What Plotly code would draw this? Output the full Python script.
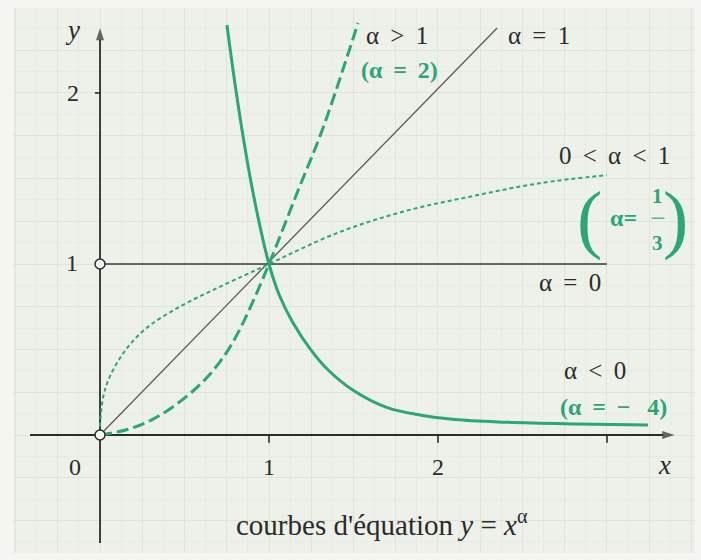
import plotly.graph_objects as go

# Curves y = x^alpha, values read point by point
x_neg4 = [0.751, 0.80, 0.85, 0.90, 0.95, 1.0, 1.06, 1.14, 1.25, 1.35, 1.5, 1.7, 1.9, 2.1, 2.4, 2.8, 3.243]
y_neg4 = [2.398, 2.045, 1.725, 1.445, 1.205, 1.0, 0.82, 0.66, 0.495, 0.38, 0.26, 0.16, 0.116, 0.09, 0.075, 0.065, 0.058]

x_two = [0, 0.168, 0.306, 0.424, 0.542, 0.641, 0.740, 0.818, 0.90, 1.0, 1.172, 1.314, 1.527]
y_two = [0, 0.034, 0.089, 0.160, 0.250, 0.345, 0.470, 0.600, 0.770, 1.0, 1.43, 1.78, 2.409]

x_third = [0, 0.03, 0.13, 0.266, 0.462, 0.663, 0.858, 1.0, 1.4, 1.8, 2.2, 2.6, 3.0]
y_third = [0.05, 0.268, 0.468, 0.618, 0.745, 0.845, 0.935, 1.0, 1.18, 1.308, 1.396, 1.472, 1.52]

x_one = [0, 2.35]
y_one = [0, 2.38]

x_zero = [0, 3.0]
y_zero = [1, 1]

# open points on the y axis
x_open = [0, 0]
y_open = [0, 1]

# extent of the drawn axes
x_axis_span = [-0.414, 3.40]
y_axis_span = [-0.632, 2.38]

x_ticks = [1, 2, 3]
x_tick_labels = ["1", "2", ""]
y_ticks = [2]

GREEN = "#2aa677"
INK = "#2b2b2b"
FONT = "Liberation Serif, Times New Roman, DejaVu Serif, serif"
SP = "\u2009"  # thin space around operators

fig = go.Figure()

# axes: plain lines ending in an arrow head
fig.add_trace(go.Scatter(x=x_axis_span, y=[0, 0], mode="lines+markers",
                         line=dict(color=INK, width=1.8),
                         marker=dict(symbol="arrow", size=[0, 13], angleref="previous",
                                     color=INK, line=dict(width=0))))
fig.add_trace(go.Scatter(x=[0, 0], y=y_axis_span, mode="lines+markers",
                         line=dict(color=INK, width=1.8),
                         marker=dict(symbol="arrow", size=[0, 13], angleref="previous",
                                     color=INK, line=dict(width=0))))

fig.add_trace(go.Scatter(x=x_one, y=y_one, mode="lines",
                         line=dict(color="#5a5a5a", width=1.3)))
fig.add_trace(go.Scatter(x=x_zero, y=y_zero, mode="lines",
                         line=dict(color="#3a3a3a", width=1.6)))
fig.add_trace(go.Scatter(x=x_third, y=y_third, mode="lines", line_shape="spline",
                         line=dict(color=GREEN, width=2, dash="4px,3px")))
fig.add_trace(go.Scatter(x=x_two, y=y_two, mode="lines", line_shape="spline",
                         line=dict(color=GREEN, width=3, dash="12px,5px")))
fig.add_trace(go.Scatter(x=x_neg4, y=y_neg4, mode="lines", line_shape="spline",
                         line=dict(color=GREEN, width=3)))

# small tick marks on the axes
for t in x_ticks:
    fig.add_shape(type="line", x0=t, x1=t, y0=0, y1=-0.045, xref="x", yref="y",
                  line=dict(color=INK, width=1.6))
for t in y_ticks:
    fig.add_shape(type="line", x0=-0.03, x1=0, y0=t, y1=t, xref="x", yref="y",
                  line=dict(color=INK, width=1.6))

fig.add_trace(go.Scatter(x=x_open, y=y_open, mode="markers",
                         marker=dict(symbol="circle", size=10, color="#f4f6f2",
                                     line=dict(color=INK, width=1.5))))


def label(x, y, text, size=25, color=INK, bold=False, xanchor="center"):
    if bold:
        text = "<b>" + text + "</b>"
    fig.add_annotation(x=x, y=y, text=text, showarrow=False, xref="x", yref="y",
                       xanchor=xanchor, yanchor="middle",
                       font=dict(family=FONT, size=size, color=color))


def op(a, sym, b):
    return a + " " + SP + sym + SP + " " + b


# axis labels
label(-0.148, -0.187, "0", size=24)
for t, s in zip(x_ticks, x_tick_labels):
    if s:
        label(t, -0.187, s, size=24)
label(3.343, -0.175, "<i>x</i>", size=27)
label(-0.16, 2.37, "<i>y</i>", size=27)
label(-0.16, 2.0, "2", size=24)
label(-0.165, 1.006, "1", size=24)

# curve labels
label(1.76, 2.339, op("α", ">", "1"))
label(1.77, 2.134, "(" + op("α", "=", "2") + ")", size=24, color=GREEN, bold=True)
label(2.60, 2.339, op("α", "=", "1"))
label(3.047, 1.637, op(op("0", "<", "α"), "<", "1"))
label(2.895, 1.269, "(", size=76, color=GREEN)
label(3.100, 1.269, "α=", size=24, color=GREEN, bold=True)
label(3.302, 1.395, "1", size=21, color=GREEN, bold=True)
label(3.302, 1.125, "3", size=21, color=GREEN, bold=True)
fig.add_shape(type="line", x0=3.265, x1=3.34, y0=1.268, y1=1.268, xref="x", yref="y",
              line=dict(color=GREEN, width=1.2))
label(3.405, 1.269, ")", size=76, color=GREEN)
label(2.781, 0.889, op("α", "=", "0"))
label(2.929, 0.380, op("α", "<", "0"))
label(3.036, 0.164, "(" + op("α", "=", "− " + SP + " " + "4") + ")", size=24, color=GREEN, bold=True)

# caption
label(1.67, -0.515, "courbes d'équation <i>y</i> = <i>x</i><sup>α</sup>", size=29)

fig.update_layout(
    width=701, height=560,
    margin=dict(l=13, r=6, t=8, b=7),
    paper_bgcolor="#f5f6f2",
    plot_bgcolor="#eef1ea",
    showlegend=False,
    xaxis=dict(range=[-0.515, 3.521], showticklabels=False, ticks="", zeroline=False,
               showgrid=True, dtick=0.25, tick0=0, gridcolor="#dfe4db", gridwidth=1,
               minor=dict(dtick=0.125, showgrid=True, gridcolor="#e7ebe4", gridwidth=1),
               fixedrange=True),
    yaxis=dict(range=[-0.690, 2.497], showticklabels=False, ticks="", zeroline=False,
               showgrid=True, dtick=0.25, tick0=0, gridcolor="#dfe4db", gridwidth=1,
               minor=dict(dtick=0.125, showgrid=True, gridcolor="#e7ebe4", gridwidth=1),
               fixedrange=True),
)

fig.write_html("out.html")
